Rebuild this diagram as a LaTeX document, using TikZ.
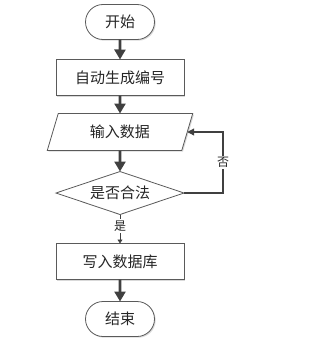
\documentclass[tikz,border=0pt]{standalone}
\usepackage{fontspec}
\newfontfamily\cjk{Noto Sans CJK SC}
\usepackage{xcolor}
\definecolor{Edge}{HTML}{5A5A5A}
\definecolor{Arrow}{HTML}{404040}
\definecolor{Shade}{HTML}{D9D9D9}
\colorlet{edgegray}{Edge}
\colorlet{arrowgray}{Arrow}
\colorlet{shade}{Shade}
\usepackage{tikz}
\usetikzlibrary{arrows.meta,positioning,shapes.geometric,shapes.misc,shadows}

\begin{document}
\begin{tikzpicture}[x=1pt,y=-1pt,
  every node/.style={font=\cjk\fontsize{15}{17}\selectfont,text=black!85,align=center,outer sep=0pt},
  term/.style={draw=edgegray,line width=0.8pt,rounded rectangle,minimum width=69pt,minimum height=35pt,inner sep=0pt,fill=white,drop shadow={shadow xshift=1.2pt,shadow yshift=-1.2pt,fill=shade,opacity=1}},
  proc/.style={draw=edgegray,line width=0.8pt,rectangle,minimum width=128pt,minimum height=36pt,inner sep=0pt,fill=white,drop shadow={shadow xshift=1.2pt,shadow yshift=-1.2pt,fill=shade,opacity=1}},
  io/.style={draw=edgegray,line width=0.8pt,trapezium,trapezium left angle=69,trapezium right angle=111,trapezium stretches=true,minimum width=146pt,minimum height=37pt,inner sep=0pt,fill=white,drop shadow={shadow xshift=1.2pt,shadow yshift=-1.2pt,fill=shade,opacity=1}},
  decide/.style={draw=edgegray,line width=0.8pt,diamond,shape aspect=3,minimum width=128pt,minimum height=43pt,inner sep=0pt,fill=white},
  flow/.style={draw=arrowgray,line width=2.6pt,-{Triangle[length=10pt,width=11pt]}},
  backflow/.style={draw=arrowgray,line width=1.2pt,-{Triangle[length=7pt,width=7pt]}},
  yesflow/.style={draw=arrowgray,line width=0.8pt,-{Triangle[length=4pt,width=5pt]}},
  lbl/.style={fill=white,inner sep=1.5pt,font=\cjk\fontsize{12}{14}\selectfont}]
\useasboundingbox (0,0) rectangle (313,345);
\node[term] (start) at (120,22) {开始};
\node[proc,below=20pt of start] (num) {自动生成编号};
\node[io,below=18pt of num] (in) {输入数据};
\node[decide,below=21pt of in] (chk) {是否合法};
\node[proc,below=29pt of chk] (save) {写入数据库};
\node[term,below=22pt of save] (stop) {结束};
\draw[flow] (start)--(num);\draw[flow] (num)--(in);\draw[flow] (in)--(chk);
\draw[yesflow] (chk) -- node[lbl,pos=0.4]{是} (save);
\draw[flow] (save)--(stop);
\draw[backflow] (chk.east) -- ++(39,0) |- node[lbl,pos=0.25]{否} (in.east);
\end{tikzpicture}
\end{document}
